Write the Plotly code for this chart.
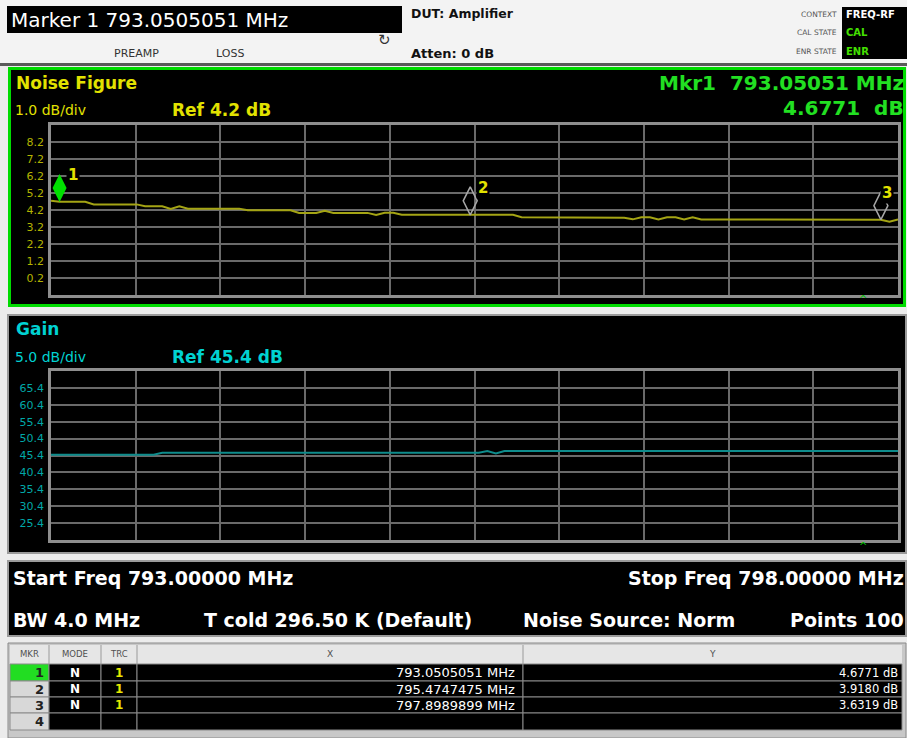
import plotly.graph_objects as go

W, H = 907, 738
FONT = "DejaVu Sans"

# sweep settings shown in the status panel
start_mhz = 793.0
stop_mhz = 798.0
points = 100
freq = [start_mhz + i * (stop_mhz - start_mhz) / (points - 1) for i in range(points)]

# noise figure trace (dB)
noise_figure = [
    4.75, 4.68, 4.68, 4.68, 4.68, 4.53, 4.53, 4.53, 4.53, 4.53,
    4.53, 4.42, 4.42, 4.42, 4.26, 4.42, 4.28, 4.28, 4.28, 4.28,
    4.28, 4.28, 4.28, 4.18, 4.18, 4.18, 4.18, 4.18, 4.18, 4.02,
    4.02, 4.02, 4.16, 4.03, 4.03, 4.03, 4.03, 4.03, 3.91, 4.04,
    4.04, 3.92, 3.92, 3.92, 3.92, 3.92, 3.92, 3.92, 3.92, 3.92,
    3.92, 3.92, 3.92, 3.92, 3.92, 3.77, 3.77, 3.77, 3.77, 3.77,
    3.77, 3.77, 3.77, 3.77, 3.77, 3.77, 3.77, 3.75, 3.65, 3.77,
    3.77, 3.65, 3.77, 3.77, 3.65, 3.77, 3.64, 3.64, 3.64, 3.64,
    3.64, 3.64, 3.64, 3.64, 3.64, 3.64, 3.64, 3.64, 3.64, 3.64,
    3.64, 3.64, 3.64, 3.64, 3.64, 3.64, 3.64, 3.63, 3.51, 3.65,
]

# gain trace (dB)
gain = [
    45.6, 45.6, 45.6, 45.6, 45.6, 45.6, 45.6, 45.6, 45.6, 45.6,
    45.6, 45.6, 45.6, 46.2, 46.2, 46.2, 46.2, 46.2, 46.2, 46.2,
    46.2, 46.2, 46.2, 46.2, 46.2, 46.2, 46.2, 46.2, 46.2, 46.2,
    46.2, 46.2, 46.2, 46.2, 46.2, 46.2, 46.2, 46.2, 46.2, 46.2,
    46.2, 46.2, 46.2, 46.2, 46.2, 46.2, 46.2, 46.2, 46.2, 46.2,
    46.2, 46.7, 46.0, 46.75, 46.75, 46.75, 46.75, 46.75, 46.75, 46.75,
    46.75, 46.75, 46.75, 46.75, 46.75, 46.75, 46.75, 46.75, 46.75, 46.75,
    46.75, 46.75, 46.75, 46.75, 46.75, 46.75, 46.75, 46.75, 46.75, 46.75,
    46.75, 46.75, 46.75, 46.75, 46.75, 46.75, 46.75, 46.75, 46.75, 46.75,
    46.75, 46.75, 46.75, 46.75, 46.75, 46.75, 46.75, 46.75, 46.75, 46.75,
]

nf_ref, nf_div = 4.2, 1.0
gain_ref, gain_div = 45.4, 5.0
nf_ticks = [0.2, 1.2, 2.2, 3.2, 4.2, 5.2, 6.2, 7.2, 8.2]
gain_ticks = [25.4, 30.4, 35.4, 40.4, 45.4, 50.4, 55.4, 60.4, 65.4]

# marker table
mkr_ids = ["1", "2", "3", "4"]
mkr_mode = ["N", "N", "N", ""]
mkr_trc = ["1", "1", "1", ""]
mkr_freq = [793.0505051, 795.4747475, 797.8989899]
mkr_val = [4.6771, 3.9180, 3.6319]

YEL = "#e2e200"
YEL_TICK = "#b4b400"
NF_LINE = "#a4a414"
CYAN = "#00d2d2"
CYAN_TICK = "#00a8a8"
GAIN_LINE = "#0e8c8c"
GREEN = "#22e022"
GRID = "#6a6a6a"
FRAME = "#8e8e8e"


def px(x):
    return x / W


def py(y):
    return 1 - y / H


def rect(x0, y0, x1, y1, fill="rgba(0,0,0,0)", line="rgba(0,0,0,0)", lw=0):
    return dict(type="rect", xref="paper", yref="paper", layer="below",
                x0=px(x0), x1=px(x1), y0=py(y1), y1=py(y0),
                fillcolor=fill, line=dict(color=line, width=lw))


def label(x, y, text, color, size, bold=False, anchor="left"):
    return dict(xref="paper", yref="paper", x=px(x), y=py(y),
                text="<b>%s</b>" % text if bold else text, showarrow=False,
                xanchor=anchor, yanchor="middle", borderpad=0,
                font=dict(color=color, size=size, family=FONT))


fig = go.Figure()
fig.add_trace(go.Scatter(x=freq, y=noise_figure, mode="lines", xaxis="x", yaxis="y",
                         line=dict(color=NF_LINE, width=2), hoverinfo="skip"))
fig.add_trace(go.Scatter(x=freq, y=gain, mode="lines", xaxis="x2", yaxis="y2",
                         line=dict(color=GAIN_LINE, width=2), hoverinfo="skip"))

# marker diamonds sit with their lower tip on the trace (28 px tall, 17 px per division)
lift = 14 / 17 * nf_div
fig.add_trace(go.Scatter(x=mkr_freq[:1], y=[mkr_val[0] + lift], mode="markers", cliponaxis=False,
                         marker=dict(symbol="diamond-tall", size=20, color="#00e000"),
                         xaxis="x", yaxis="y", hoverinfo="skip"))
fig.add_trace(go.Scatter(x=mkr_freq[1:], y=[v + lift for v in mkr_val[1:]], mode="markers",
                         cliponaxis=False,
                         marker=dict(symbol="diamond-tall-open", size=20, color="#a8a8a8",
                                     line=dict(width=1.5)),
                         xaxis="x", yaxis="y", hoverinfo="skip"))

shapes = [
    rect(0, 0, 907, 64, fill="#f3f3f3"),
    rect(0, 63, 907, 66, fill="#5a5a5a"),
    rect(7, 6, 402, 33, fill="black"),
    rect(842, 7, 907, 59, fill="black"),
    # noise figure panel
    rect(8, 67, 906, 307, fill="black"),
    rect(9.5, 68.5, 904.5, 305.5, line="#00dc00", lw=3),
    # gain panel
    rect(8, 315, 906, 553, fill="black", line="#9a9a9a", lw=2),
    # status panel
    rect(8, 561, 906, 636, fill="black", line="#9a9a9a", lw=2),
    # marker table
    rect(8, 643, 906, 738, fill="#c8c8c8", line="#8a8a8a", lw=1),
    rect(10, 645, 902, 664, fill="#e6e6e6"),
]

col_x = [10, 49, 101, 137, 523, 902]
row_y = [664, 681, 697, 713, 730]
for r in range(4):
    y0, y1 = row_y[r], row_y[r + 1]
    shapes.append(rect(col_x[0], y0, col_x[1], y1,
                       fill="#22dd22" if r == 0 else "#d8d8d8", line="#8a8a8a", lw=1))
    for c in range(1, 5):
        shapes.append(rect(col_x[c], y0, col_x[c + 1], y1, fill="black", line="#8a8a8a", lw=1))
for c in range(1, 5):
    shapes.append(dict(type="line", xref="paper", yref="paper", layer="below",
                       x0=px(col_x[c]), x1=px(col_x[c]), y0=py(664), y1=py(645),
                       line=dict(color="#9a9a9a", width=1)))

ann = [
    label(10, 20, "Marker 1 793.0505051 MHz", "white", 20),
    label(113, 54, "PREAMP", "#333333", 11),
    label(215, 54, "LOSS", "#333333", 11),
    label(384, 40, "\u21bb", "#333333", 15, anchor="center"),
    label(410, 14, "DUT: Amplifier", "#111111", 12.5, bold=True),
    label(410, 54, "Atten: 0 dB", "#111111", 13, bold=True),
    label(838, 15, "CONTEXT", "#555555", 7.5, anchor="right"),
    label(838, 33, "CAL STATE", "#555555", 7.5, anchor="right"),
    label(838, 52, "ENR STATE", "#555555", 7.5, anchor="right"),
    label(845, 15, "FREQ-RF", "white", 10, bold=True),
    label(845, 33, "CAL", "#44e000", 10, bold=True),
    label(845, 52, "ENR", "#44e000", 10, bold=True),
    # noise figure panel
    label(15, 83, "Noise Figure", YEL, 17, bold=True),
    label(14, 110, "%.1f dB/div" % nf_div, YEL, 14),
    label(171, 110, "Ref %.1f dB" % nf_ref, YEL, 17, bold=True),
    label(905, 83, "Mkr1\u00a0\u00a0%.5f MHz" % mkr_freq[0], GREEN, 20, bold=True, anchor="right"),
    label(905, 108, "%.4f\u00a0\u00a0dB" % mkr_val[0], GREEN, 20, bold=True, anchor="right"),
    label(863, 299, "^", "#00c000", 10, anchor="center"),
    # gain panel
    label(15, 329, "Gain", CYAN, 17, bold=True),
    label(14, 357, "%.1f dB/div" % gain_div, CYAN, 14),
    label(171, 357, "Ref %.1f dB" % gain_ref, CYAN, 17, bold=True),
    label(863, 546, "^", "#00c000", 10, anchor="center"),
    # status panel
    label(12, 578, "Start Freq %.5f MHz" % start_mhz, "white", 19, bold=True),
    label(905, 578, "Stop Freq %.5f MHz" % stop_mhz, "white", 19, bold=True, anchor="right"),
    label(12, 620, "BW 4.0 MHz", "white", 19, bold=True),
    label(203, 620, "T cold 296.50 K (Default)", "white", 19, bold=True),
    label(522, 620, "Noise Source: Norm", "white", 19, bold=True),
    label(905, 620, "Points %d" % points, "white", 19, bold=True, anchor="right"),
    # table header
    label(29, 654, "MKR", "#505050", 8.5, anchor="center"),
    label(75, 654, "MODE", "#505050", 8.5, anchor="center"),
    label(119, 654, "TRC", "#505050", 8.5, anchor="center"),
    label(330, 654, "X", "#505050", 9, anchor="center"),
    label(712, 654, "Y", "#505050", 9, anchor="center"),
]

for r in range(4):
    yc = (row_y[r] + row_y[r + 1]) / 2
    ann.append(label(45, yc, mkr_ids[r], "#222222", 13, bold=True, anchor="right"))
    if mkr_mode[r]:
        ann.append(label(75, yc, mkr_mode[r], "white", 12, bold=True, anchor="center"))
        ann.append(label(119, yc, mkr_trc[r], "#e8e800", 12, bold=True, anchor="center"))
for r, (f, v) in enumerate(zip(mkr_freq, mkr_val)):
    yc = (row_y[r] + row_y[r + 1]) / 2
    ann.append(label(516, yc, "%.7f MHz" % f, "white", 13, anchor="right"))
    ann.append(label(899, yc, "%.4f dB" % v, "white", 11.5, anchor="right"))

# marker numbers beside the diamonds
for i, (f, v) in enumerate(zip(mkr_freq, mkr_val)):
    ann.append(dict(xref="x", yref="y", x=f, y=v, text="<b>%d</b>" % (i + 1), showarrow=False,
                    xshift=6 if i == 2 else 13, yshift=27, bgcolor="black",
                    font=dict(color=YEL, size=15, family=FONT)))

grid_x = dict(range=[start_mhz, stop_mhz], tick0=start_mhz, dtick=0.5, showticklabels=False,
              showgrid=True, gridcolor=GRID, gridwidth=1.5, zeroline=False, ticks="",
              showline=True, mirror=True, linecolor=FRAME, linewidth=2.5, fixedrange=True,
              domain=[px(51), px(898)])
grid_y = dict(showgrid=True, gridcolor=GRID, gridwidth=1.5, zeroline=False, ticks="",
              showline=True, mirror=True, linecolor=FRAME, linewidth=2.5, fixedrange=True,
              ticklabelstandoff=2)

fig.update_layout(
    width=W, height=H, margin=dict(l=0, r=0, t=0, b=0),
    paper_bgcolor="#ececec", plot_bgcolor="rgba(0,0,0,0)", showlegend=False,
    xaxis=dict(grid_x, anchor="y"),
    yaxis=dict(grid_y, anchor="x", domain=[py(295), py(125)],
               range=[nf_ref - 5 * nf_div, nf_ref + 5 * nf_div],
               tickvals=nf_ticks, ticktext=["%.1f" % t for t in nf_ticks],
               tickfont=dict(color=YEL_TICK, size=11, family=FONT)),
    xaxis2=dict(grid_x, anchor="y2"),
    yaxis2=dict(grid_y, anchor="x2", domain=[py(540), py(371)],
                range=[gain_ref - 5 * gain_div, gain_ref + 5 * gain_div],
                tickvals=gain_ticks, ticktext=["%.1f" % t for t in gain_ticks],
                tickfont=dict(color=CYAN_TICK, size=11, family=FONT)),
    shapes=shapes, annotations=ann,
)

# the page is photographed at exactly the figure size, so drop the default body margin
fig.write_html("out.html", config={"displayModeBar": False},
               post_script="document.body.style.margin='0';document.body.style.overflow='hidden';")
